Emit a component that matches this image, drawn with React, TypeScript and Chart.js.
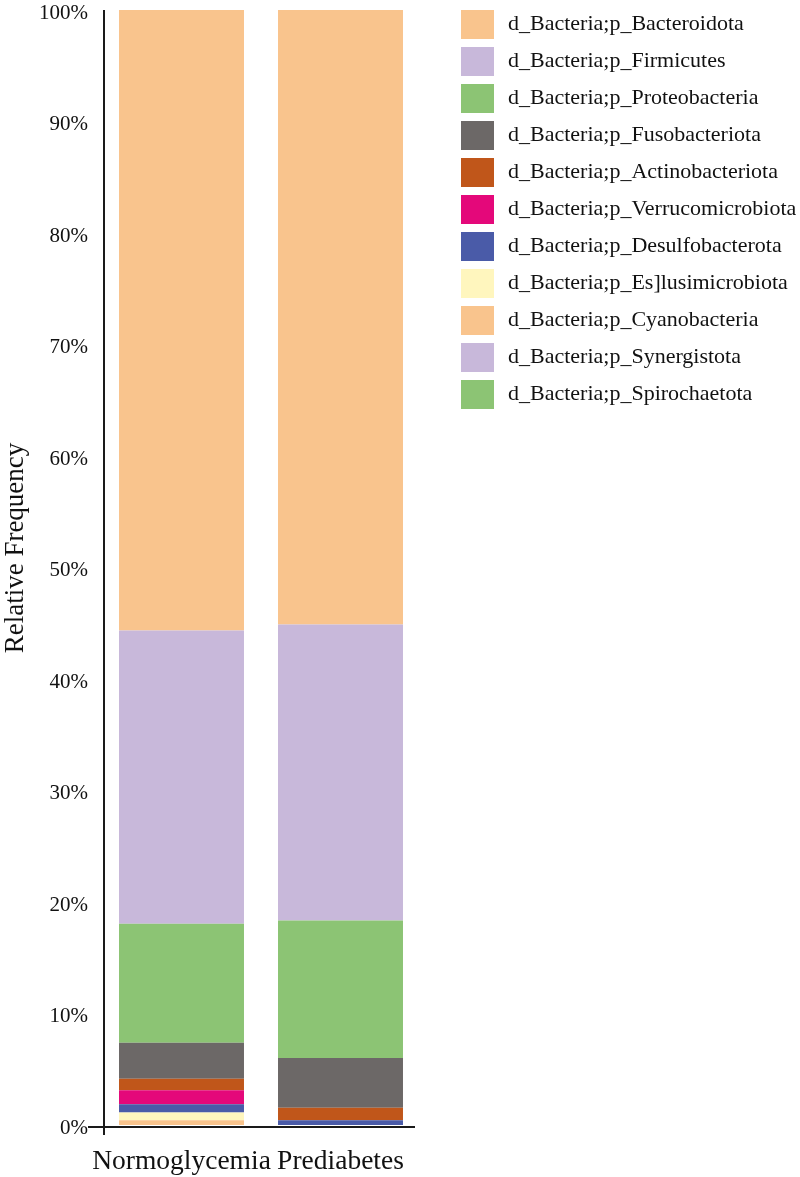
import React, { useEffect, useRef } from "react";
import { Chart, registerables } from "chart.js";

Chart.register(...registerables);

const groups = ["Normoglycemia", "Prediabetes"];
const taxa = [
  "d_Bacteria;p_Bacteroidota",
  "d_Bacteria;p_Firmicutes",
  "d_Bacteria;p_Proteobacteria",
  "d_Bacteria;p_Fusobacteriota",
  "d_Bacteria;p_Actinobacteriota",
  "d_Bacteria;p_Verrucomicrobiota",
  "d_Bacteria;p_Desulfobacterota",
  "d_Bacteria;p_Es]lusimicrobiota",
  "d_Bacteria;p_Cyanobacteria",
  "d_Bacteria;p_Synergistota",
  "d_Bacteria;p_Spirochaetota",
];
const colors = [
  "#F9C48D",
  "#C8B8DA",
  "#8CC474",
  "#6C6867",
  "#C0561A",
  "#E4087A",
  "#4A5BA8",
  "#FFF6BE",
  "#F9C48D",
  "#C8B8DA",
  "#8CC474",
];
const normoglycemia = [55.64, 26.32, 10.67, 3.23, 1.02, 1.26, 0.74, 0.69, 0.43, 0.0, 0.0];
const prediabetes = [55.11, 26.56, 12.31, 4.48, 1.11, 0.0, 0.43, 0.0, 0.0, 0.0, 0.0];
const yTicks = [0, 10, 20, 30, 40, 50, 60, 70, 80, 90, 100];
const yTitle = "Relative Frequency";

const FONT = "'Liberation Serif', 'Times New Roman', serif";

export default function App() {
  const ref = useRef<HTMLCanvasElement | null>(null);

  useEffect(() => {
    document.body.style.margin = "0";
    const canvas = ref.current;
    if (!canvas) return;

    const datasets = taxa
      .map((name, i) => ({
        label: name,
        data: [normoglycemia[i], prediabetes[i]],
        backgroundColor: colors[i],
        borderWidth: 0,
        categoryPercentage: 0.786,
        barPercentage: 1,
      }))
      .reverse();

    const axesPlugin = {
      id: "axesPlugin",
      afterDatasetsDraw(chart: any) {
        const { ctx, chartArea } = chart;
        ctx.save();
        ctx.strokeStyle = "#1a1a1a";
        ctx.lineWidth = 2;
        ctx.beginPath();
        ctx.moveTo(chartArea.left + 2, chartArea.top);
        ctx.lineTo(chartArea.left + 2, chartArea.bottom + 10);
        ctx.moveTo(chartArea.left - 14, chartArea.bottom + 2);
        ctx.lineTo(chartArea.right - 5, chartArea.bottom + 2);
        ctx.stroke();
        ctx.translate(16, 548);
        ctx.rotate(-Math.PI / 2);
        ctx.fillStyle = "#111";
        ctx.font = `27px ${FONT}`;
        ctx.textAlign = "center";
        ctx.textBaseline = "middle";
        ctx.fillText(yTitle, 0, 0);
        ctx.restore();
      },
    };

    const chart = new Chart(canvas, {
      type: "bar",
      data: { labels: groups, datasets },
      options: {
        responsive: false,
        animation: false,
        devicePixelRatio: 1,
        layout: { padding: { top: 10, right: 380, left: 0, bottom: 0 } },
        plugins: { legend: { display: false }, tooltip: { enabled: false } },
        scales: {
          x: {
            stacked: true,
            grid: { display: false, drawTicks: false },
            border: { display: false },
            ticks: {
              color: "#111",
              font: { family: FONT, size: 27.5 },
              padding: 20,
              maxRotation: 0,
              minRotation: 0,
              autoSkip: false,
            },
            afterFit(scale: any) {
              scale.height = 52;
              scale.paddingLeft = 0;
              scale.paddingRight = 0;
            },
          },
          y: {
            stacked: true,
            min: 0,
            max: 100,
            grid: { display: false, drawTicks: false },
            border: { display: false },
            afterBuildTicks(scale: any) {
              scale.ticks = yTicks.map((v) => ({ value: v }));
            },
            ticks: {
              color: "#111",
              font: { family: FONT, size: 21 },
              padding: 14,
              labelOffset: 3,
              callback: (v: any) => `${v}%`,
            },
            afterFit(scale: any) {
              scale.width = 102;
              scale.paddingTop = 0;
              scale.paddingBottom = 0;
            },
          },
        },
      },
      plugins: [axesPlugin],
    });
    return () => chart.destroy();
  }, []);

  return (
    <div style={{ position: "relative", width: 800, height: 1177 }}>
      <canvas ref={ref} width={800} height={1177} style={{ display: "block" }} />
      <div style={{ position: "absolute", left: 461, top: 10 }}>
        {taxa.map((name, i) => (
          <div
            key={name}
            style={{ display: "flex", alignItems: "center", height: 29, marginBottom: 8 }}
          >
            <div style={{ width: 33, height: 29, background: colors[i], flex: "none" }} />
            <span
              style={{
                marginLeft: 14,
                marginTop: -4,
                fontFamily: FONT,
                fontSize: 22,
                color: "#111",
                whiteSpace: "nowrap",
              }}
            >
              {name}
            </span>
          </div>
        ))}
      </div>
    </div>
  );
}
